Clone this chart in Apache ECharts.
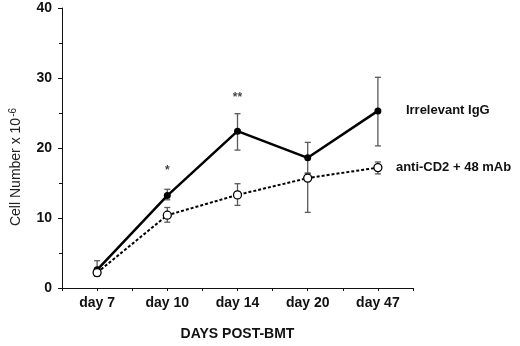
<!DOCTYPE html>
<html>
<head>
<meta charset="utf-8">
<script src="https://cdn.jsdelivr.net/npm/echarts@6/dist/echarts.min.js"></script>
<style>
  html, body { margin: 0; padding: 0; background: #fff; }
  #chart { width: 520px; height: 346px; }
</style>
</head>
<body>
<div id="chart"></div>
<script>
const days = ['day 7', 'day 10', 'day 14', 'day 20', 'day 47'];

// Irrelevant IgG (filled, solid)
const igg = [2.6, 13.2, 22.4, 18.6, 25.3];
const iggLow = [2.0, 12.6, 19.7, 16.4, 20.3];
const iggHigh = [3.9, 14.1, 24.9, 20.8, 30.1];

// anti-CD2 + 48 mAb (open, dashed)
const cd2 = [2.2, 10.4, 13.3, 15.7, 17.2];
const cd2Low = [1.7, 9.4, 11.8, 10.8, 16.3];
const cd2High = [2.8, 11.5, 14.9, 16.4, 18.0];

// significance marks
const stars = ['', '*', '**', '', ''];
const starY = [null, 16.8, 27.2, null, null];

const yTicks = [0, 10, 20, 30, 40];

const chart = echarts.init(document.getElementById('chart'));
const font = '"Liberation Sans", Arial, sans-serif';

function errorSeries(low, high) {
  return {
    type: 'custom',
    xAxisIndex: 0,
    data: low.map((l, i) => [i, l, high[i]]),
    z: 1,
    renderItem: (params, api) => {
      const lo = api.coord([api.value(0), api.value(1)]);
      const hi = api.coord([api.value(0), api.value(2)]);
      const w = 3;
      const style = { stroke: '#5a5a5a', lineWidth: 1.3 };
      return {
        type: 'group',
        children: [
          { type: 'line', shape: { x1: lo[0], y1: lo[1], x2: hi[0], y2: hi[1] }, style },
          { type: 'line', shape: { x1: lo[0] - w, y1: lo[1], x2: lo[0] + w, y2: lo[1] }, style },
          { type: 'line', shape: { x1: hi[0] - w, y1: hi[1], x2: hi[0] + w, y2: hi[1] }, style }
        ]
      };
    }
  };
}

const option = {
  animation: false,
  backgroundColor: '#fff',
  textStyle: { fontFamily: font },
  grid: { left: 53, right: 107, top: 8, bottom: 50 },
  xAxis: [
    {
      type: 'category',
      data: days,
      boundaryGap: true,
      name: 'DAYS POST-BMT',
      nameLocation: 'middle',
      nameGap: 39,
      nameTextStyle: { fontSize: 14, fontWeight: 'bold', color: '#111', fontFamily: font },
      axisLine: { lineStyle: { color: '#111', width: 1 } },
      axisTick: { show: true, length: 3, lineStyle: { color: '#111' } },
      axisLabel: { fontSize: 14, fontWeight: 'bold', color: '#111', margin: 8, fontFamily: font },
      splitLine: { show: false }
    },
    {
      type: 'category',
      data: days,
      boundaryGap: true,
      position: 'bottom',
      axisLine: { show: false },
      axisTick: { show: true, alignWithLabel: true, length: 3, lineStyle: { color: '#111' } },
      axisLabel: { show: false }
    }
  ],
  yAxis: {
    type: 'value',
    min: 0,
    max: 40,
    interval: 10,
    name: '{a|Cell Number x 10}{s|-6}',
    nameLocation: 'middle',
    nameRotate: 90,
    nameGap: 37,
    nameTextStyle: {
      padding: [0, 38, 0, 0],
      rich: {
        a: { fontSize: 14, color: '#222', fontFamily: font },
        s: { fontSize: 10, color: '#222', fontFamily: font, verticalAlign: 'top', padding: [0, 0, 7, 1] }
      }
    },
    axisLine: { show: true, lineStyle: { color: '#111', width: 1 } },
    axisTick: { show: true, length: 4, lineStyle: { color: '#111' } },
    minorTick: { show: true, splitNumber: 2, length: 3, lineStyle: { color: '#111' } },
    axisLabel: {
      fontSize: 14, fontWeight: 'bold', color: '#111', margin: 10, fontFamily: font,
      formatter: v => (yTicks.includes(v) ? String(v) : '')
    },
    splitLine: { show: false }
  },
  series: [
    errorSeries(iggLow, iggHigh),
    errorSeries(cd2Low, cd2High),
    {
      name: 'Irrelevant IgG',
      type: 'line',
      data: igg,
      z: 3,
      symbol: 'circle',
      symbolSize: 7,
      itemStyle: { color: '#000' },
      lineStyle: { color: '#000', width: 2.5 },
      endLabel: {
        show: true,
        formatter: '{a}',
        distance: 28,
        fontSize: 13,
        fontWeight: 'bold',
        color: '#111',
        fontFamily: font
      }
    },
    {
      name: 'anti-CD2 + 48 mAb',
      type: 'line',
      data: cd2,
      z: 3,
      symbol: 'circle',
      symbolSize: 8,
      itemStyle: { color: '#fff', borderColor: '#000', borderWidth: 1.3 },
      lineStyle: { color: '#000', width: 2, type: [3, 2] },
      endLabel: {
        show: true,
        formatter: '{a}',
        distance: 18,
        fontSize: 13,
        fontWeight: 'bold',
        color: '#111',
        fontFamily: font
      }
    },
    {
      type: 'scatter',
      data: starY,
      symbolSize: 0,
      z: 4,
      label: {
        show: true,
        position: 'inside',
        formatter: p => stars[p.dataIndex],
        fontSize: 12,
        fontWeight: 'bold',
        color: '#111',
        fontFamily: font
      }
    }
  ]
};

chart.setOption(option);
</script>
</body>
</html>
